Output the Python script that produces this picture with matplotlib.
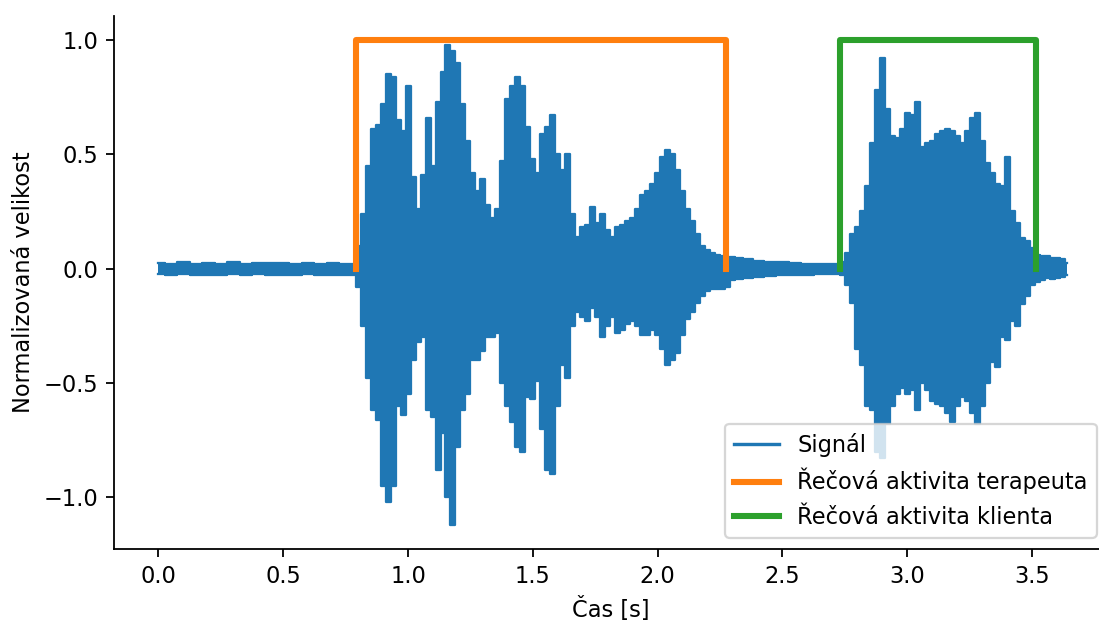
import matplotlib.pyplot as plt

# obalka signalu (horni / dolni maxima) v case
cas = [0.00, 0.05, 0.10, 0.15, 0.20, 0.25, 0.30, 0.35, 0.40, 0.45, 0.50, 0.55, 0.60, 0.65, 0.70, 0.75, 0.78,
       0.80, 0.82, 0.84, 0.86, 0.88, 0.90, 0.92, 0.94, 0.96, 0.98,
       1.00, 1.02, 1.04, 1.06, 1.08, 1.10, 1.12, 1.14, 1.16, 1.18,
       1.20, 1.22, 1.24, 1.26, 1.28, 1.30, 1.32, 1.34, 1.36, 1.38,
       1.40, 1.42, 1.44, 1.46, 1.48, 1.50, 1.52, 1.54, 1.56, 1.58,
       1.60, 1.62, 1.64, 1.66, 1.68, 1.70, 1.72, 1.74, 1.76, 1.78,
       1.80, 1.82, 1.84, 1.86, 1.88, 1.90, 1.92, 1.94, 1.96, 1.98,
       2.00, 2.02, 2.04, 2.06, 2.08, 2.10, 2.12, 2.14, 2.16, 2.18,
       2.20, 2.22, 2.24, 2.26, 2.28, 2.30, 2.32,
       2.36, 2.40, 2.45, 2.50, 2.55, 2.60, 2.65, 2.70, 2.72,
       2.74, 2.76, 2.78, 2.80, 2.82, 2.84, 2.86, 2.88, 2.90, 2.92,
       2.94, 2.96, 2.98, 3.00, 3.02, 3.04, 3.06, 3.08, 3.10, 3.12,
       3.14, 3.16, 3.18, 3.20, 3.22, 3.24, 3.26, 3.28, 3.30, 3.32,
       3.34, 3.36, 3.38, 3.40, 3.42, 3.44, 3.46, 3.48, 3.50, 3.52,
       3.54, 3.56, 3.58, 3.60, 3.62, 3.64]

horni = [0.025, 0.020, 0.027, 0.021, 0.024, 0.022, 0.027, 0.020, 0.025, 0.023, 0.026, 0.021, 0.025, 0.022, 0.024, 0.021, 0.022,
         0.10, 0.24, 0.45, 0.61, 0.63, 0.72, 0.85, 0.84, 0.65, 0.60,
         0.80, 0.40, 0.26, 0.41, 0.66, 0.45, 0.73, 0.86, 0.98, 0.95,
         0.90, 0.72, 0.56, 0.42, 0.34, 0.39, 0.28, 0.22, 0.26, 0.47,
         0.74, 0.80, 0.84, 0.80, 0.62, 0.48, 0.42, 0.59, 0.62, 0.67,
         0.50, 0.43, 0.50, 0.24, 0.14, 0.18, 0.19, 0.27, 0.20, 0.24,
         0.17, 0.14, 0.18, 0.19, 0.21, 0.22, 0.26, 0.32, 0.34, 0.37,
         0.42, 0.49, 0.52, 0.50, 0.43, 0.34, 0.26, 0.21, 0.15, 0.10,
         0.08, 0.07, 0.06, 0.055, 0.05, 0.05, 0.045,
         0.040, 0.035, 0.030, 0.028, 0.025, 0.022, 0.022, 0.020, 0.022,
         0.03, 0.07, 0.15, 0.18, 0.25, 0.36, 0.55, 0.78, 0.92, 0.70,
         0.58, 0.57, 0.61, 0.68, 0.67, 0.73, 0.53, 0.55, 0.56, 0.59,
         0.60, 0.61, 0.60, 0.58, 0.55, 0.60, 0.66, 0.68, 0.56, 0.46,
         0.42, 0.37, 0.36, 0.49, 0.25, 0.20, 0.135, 0.12, 0.09, 0.06,
         0.055, 0.055, 0.045, 0.045, 0.04, 0.025]

dolni = [-0.025, -0.030, -0.024, -0.028, -0.026, -0.030, -0.025, -0.029, -0.024, -0.028, -0.026, -0.030, -0.025, -0.027, -0.026, -0.028, -0.030,
         -0.08, -0.25, -0.48, -0.62, -0.66, -0.95, -1.02, -0.95, -0.60, -0.64,
         -0.55, -0.40, -0.32, -0.30, -0.62, -0.65, -0.88, -0.72, -1.00, -1.12,
         -0.78, -0.62, -0.55, -0.40, -0.40, -0.36, -0.30, -0.30, -0.28, -0.50,
         -0.60, -0.67, -0.78, -0.80, -0.56, -0.57, -0.49, -0.70, -0.88, -0.90,
         -0.60, -0.42, -0.48, -0.25, -0.19, -0.21, -0.23, -0.17, -0.21, -0.30,
         -0.25, -0.21, -0.28, -0.27, -0.24, -0.23, -0.25, -0.29, -0.29, -0.27,
         -0.29, -0.35, -0.42, -0.40, -0.37, -0.29, -0.22, -0.19, -0.15, -0.12,
         -0.10, -0.09, -0.09, -0.09, -0.08, -0.05, -0.045,
         -0.040, -0.035, -0.032, -0.030, -0.028, -0.026, -0.025, -0.025, -0.025,
         -0.03, -0.07, -0.15, -0.35, -0.42, -0.60, -0.62, -0.80, -0.83, -0.68,
         -0.60, -0.55, -0.52, -0.55, -0.53, -0.62, -0.50, -0.53, -0.58, -0.59,
         -0.60, -0.63, -0.67, -0.60, -0.56, -0.58, -0.63, -0.68, -0.60, -0.50,
         -0.41, -0.43, -0.30, -0.31, -0.23, -0.25, -0.155, -0.12, -0.07, -0.06,
         -0.05, -0.04, -0.045, -0.04, -0.035, -0.03]

# detekovana recova aktivita (zacatek, konec v s)
terapeut = [0.793, 2.275]
klient = [2.731, 3.516]

dpi = 162
fig = plt.figure(figsize=(1099 / dpi, 620 / dpi), dpi=dpi)
ax = fig.add_axes([114 / 1099, 71 / 620, 994 / 1099, 533.3 / 620])

# signal vykreslen jako vyplnena obalka
ax.fill_between(cas, dolni, horni, color="C0", lw=0, step="mid")
ax.plot(cas, horni, color="C0", lw=1.0, drawstyle="steps-mid", label="Signál")
ax.plot(cas, dolni, color="C0", lw=1.0, drawstyle="steps-mid")

ax.plot([terapeut[0], terapeut[0], terapeut[1], terapeut[1]], [0, 1, 1, 0],
        color="C1", lw=2.7, label="Řečová aktivita terapeuta")
ax.plot([klient[0], klient[0], klient[1], klient[1]], [0, 1, 1, 0],
        color="C2", lw=2.7, label="Řečová aktivita klienta")

ax.set_xlim(-0.178, 3.804)
ax.set_ylim(-1.226, 1.106)
ax.set_xlabel("Čas [s]")
ax.set_ylabel("Normalizovaná velikost")
ax.spines["top"].set_visible(False)
ax.spines["right"].set_visible(False)

leg = ax.legend(loc="lower right")
leg.get_lines()[0].set_linewidth(1.5)

fig.savefig("out.png", dpi=dpi)
